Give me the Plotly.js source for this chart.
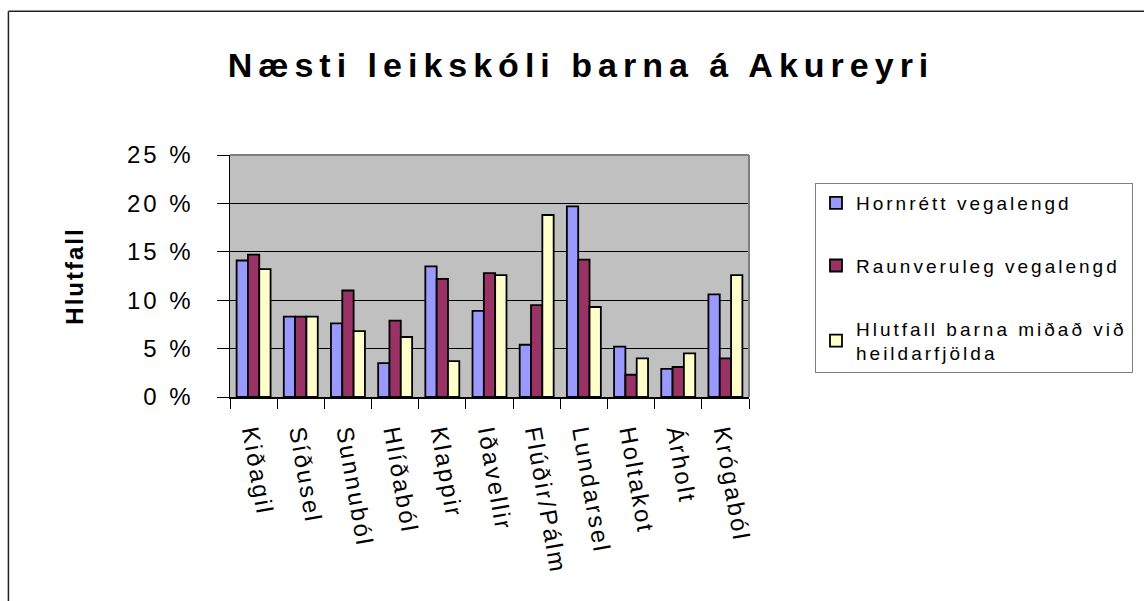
<!DOCTYPE html>
<html>
<head>
<meta charset="utf-8">
<script src="https://cdn.plot.ly/plotly-3.0.1.min.js"></script>
<style>
  html, body { margin: 0; padding: 0; background: #fff; }
  #chart { width: 1144px; height: 601px; }
  .gtitle { letter-spacing: 6px; }
  .legendtext { letter-spacing: 3px; }
  .xtick text { letter-spacing: 2.5px; }
  .ytick text { letter-spacing: 3px; }
  .ytitle { letter-spacing: 2px; }
</style>
</head>
<body>
<div id="chart"></div>
<script>
const categories = ["Kiðagil", "Síðusel", "Sunnuból", "Hlíðaból", "Klappir", "Iðavellir",
                    "Flúðir/Pálm", "Lundarsel", "Holtakot", "Árholt", "Krógaból"];
const seriesNames = ["Hornrétt vegalengd", "Raunveruleg vegalengd",
                     "Hlutfall barna miðað við<br>heildarfjölda"];
const hornrett    = [14.1, 8.3, 7.6, 3.5, 13.5, 8.9, 5.4, 19.7, 5.2, 2.9, 10.6];
const raunveruleg = [14.7, 8.3, 11.0, 7.9, 12.2, 12.8, 9.5, 14.2, 2.3, 3.1, 4.0];
const hlutfall    = [13.2, 8.3, 6.8, 6.2, 3.7, 12.6, 18.8, 9.3, 4.0, 4.5, 12.6];
const yTickVals   = [0, 5, 10, 15, 20, 25];
const yTickLabels = ["0 %", "5 %", "10 %", "15 %", "20 %", "25 %"];

const colors = ["#9999FF", "#993366", "#FFFFCC"];
const FONT = "Liberation Sans, Arial, sans-serif";

const W = 1144, H = 601;
const M = { l: 230, r: 394, t: 155, b: 203.5 };
const pw = W - M.l - M.r, ph = H - M.t - M.b;
const px = v => (v - M.l) / pw;          // pixel -> paper x
const py = v => (H - M.b - v) / ph;      // pixel -> paper y

const values = [hornrett, raunveruleg, hlutfall];
const traces = values.map((vals, i) => ({
  type: "bar",
  name: seriesNames[i],
  x: categories,
  y: vals,
  legendgroup: "g" + i,
  marker: { color: colors[i], line: { color: "#000", width: 1.8 } },
  hoverinfo: "skip"
}));

const layout = {
  width: W, height: H,
  margin: M,
  paper_bgcolor: "#fff",
  plot_bgcolor: "#C0C0C0",
  font: { family: FONT, color: "#000" },
  showlegend: true,
  barmode: "group",
  bargap: 0.28,
  bargroupgap: 0,
  title: {
    text: "<b>Næsti leikskóli barna á Akureyri</b>",
    font: { family: FONT, size: 34, color: "#000" },
    x: 581 / W, xanchor: "center", xref: "container",
    y: 1 - 65 / H, yanchor: "middle", yref: "container"
  },
  xaxis: {
    type: "category",
    tickson: "boundaries",
    ticks: "outside", ticklen: 10, tickwidth: 1, tickcolor: "#000",
    showline: true, linecolor: "#000", linewidth: 1.5,
    showgrid: false,
    tickangle: 80,
    ticklabelstandoff: 11,
    tickfont: { family: FONT, size: 24, color: "#000" },
    automargin: false
  },
  yaxis: {
    range: [0, 25],
    tickmode: "array",
    tickvals: yTickVals,
    ticktext: yTickLabels,
    ticks: "outside", ticklen: 12, tickwidth: 1, tickcolor: "#000",
    showline: true, linecolor: "#000", linewidth: 1.5,
    showgrid: true, gridcolor: "#000", gridwidth: 1,
    zeroline: false,
    tickfont: { family: FONT, size: 24, color: "#000" },
    ticklabelstandoff: 18,
    title: { text: "<b>Hlutfall</b>", font: { family: FONT, size: 24, color: "#000" }, standoff: 36 },
    automargin: true
  },
  legend: {
    x: px(815), xanchor: "left",
    y: py(183), yanchor: "top",
    bgcolor: "#fff",
    bordercolor: "#808080", borderwidth: 1,
    font: { family: FONT, size: 19, color: "#000" },
    traceorder: "grouped",
    tracegroupgap: 35,
    itemwidth: 30,
    itemclick: false, itemdoubleclick: false
  },
  shapes: [
    // plot-area frame (top and right edges)
    { type: "line", xref: "paper", yref: "paper", x0: 0, x1: 1, y0: 1, y1: 1,
      line: { color: "#808080", width: 2 } },
    { type: "line", xref: "paper", yref: "paper", x0: 1, x1: 1, y0: 0, y1: 1,
      line: { color: "#808080", width: 2 } },
    // outer chart frame (top and left edges)
    { type: "line", xref: "paper", yref: "paper", x0: px(8), x1: px(1150), y0: py(11), y1: py(11),
      line: { color: "#222", width: 1.5 } },
    { type: "line", xref: "paper", yref: "paper", x0: px(8), x1: px(8), y0: py(11), y1: py(610),
      line: { color: "#222", width: 1.5 } }
  ]
};

Plotly.newPlot("chart", traces, layout, { displayModeBar: false, staticPlot: true });
</script>
</body>
</html>
